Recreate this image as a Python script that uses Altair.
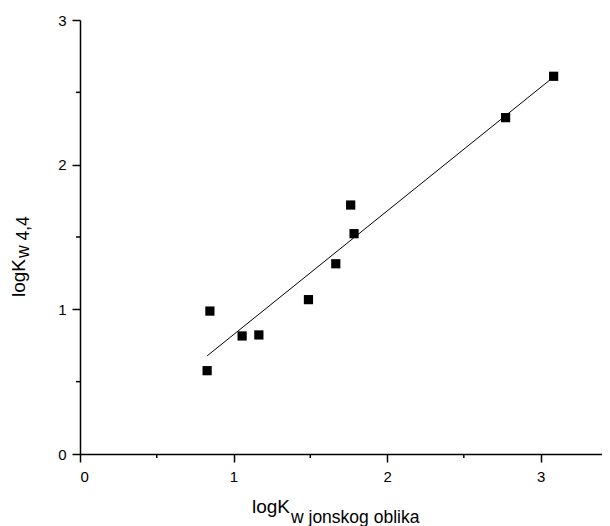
import altair as alt
import pandas as pd

# ---- data ----
x_values = [0.828, 0.846, 1.056, 1.165, 1.488, 1.666, 1.763, 1.785, 2.772, 3.085]
y_values = [0.576, 0.988, 0.816, 0.823, 1.067, 1.315, 1.721, 1.523, 2.325, 2.611]
x_major_ticks = [0, 1, 2, 3]
x_minor_ticks = [0.5, 1.5, 2.5]
y_major_ticks = [0, 1, 2, 3]
y_minor_ticks = [0.5, 1.5, 2.5]
x_domain = [0, 3.4]
y_domain = [0, 3]
x_title_main = "logK"
x_title_sub = "w jonskog oblika"
y_title_main = "logK"
y_title_sub = "w 4,4"

FONT = "Liberation Sans"
W, H = 522, 434

df = pd.DataFrame({"x": x_values, "y": y_values})
xminor = pd.DataFrame({"x": x_minor_ticks})
yminor = pd.DataFrame({"y": y_minor_ticks})

xscale = alt.Scale(domain=x_domain, nice=False, zero=False)
yscale = alt.Scale(domain=y_domain, nice=False, zero=False)
xaxis = alt.Axis(values=x_major_ticks, title=None, grid=False, tickSize=8,
                 labelPadding=7, labelFontSize=15, format="d")
yaxis = alt.Axis(values=y_major_ticks, title=None, grid=False, tickSize=8,
                 labelPadding=6, labelFontSize=15, format="d")
xenc = alt.X("x:Q", scale=xscale, axis=xaxis)
yenc = alt.Y("y:Q", scale=yscale, axis=yaxis)

line = alt.Chart(df).transform_regression("x", "y").mark_line(
    color="black", strokeWidth=1).encode(x=xenc, y=yenc)

points = alt.Chart(df).mark_square(size=85, color="black", opacity=1).encode(
    x=xenc, y=yenc)

xmin_ticks = alt.Chart(xminor).mark_rule(color="black", strokeWidth=1.5).encode(
    x=xenc, y=alt.value(H), y2=alt.value(H + 4))
ymin_ticks = alt.Chart(yminor).mark_rule(color="black", strokeWidth=1.5).encode(
    y=yenc, x=alt.value(0), x2=alt.value(-4))

def label(text, size, x, y, angle=0):
    return alt.Chart(pd.DataFrame({"t": [text]})).mark_text(
        font=FONT, fontSize=size, align="left", baseline="alphabetic",
        angle=angle, color="black").encode(
        text="t:N", x=alt.value(x), y=alt.value(y))

xt1 = label(x_title_main, 19, 172, 493)
xt2 = label(x_title_sub, 17.5, 211, 503)
yt1 = label(y_title_main, 19, -55, 277, angle=270)
yt2 = label(y_title_sub, 17.5, -51, 238, angle=270)

chart = alt.layer(line, points, xmin_ticks, ymin_ticks, xt1, xt2, yt1, yt2).properties(
    width=W, height=H,
    autosize=alt.AutoSizeParams(type="none"),
    padding={"left": 72, "top": 12, "right": 0, "bottom": 72},
).configure_view(stroke=None).configure_axis(
    domainColor="black", domainWidth=1.5, tickColor="black", tickWidth=1.5,
    labelColor="black", labelFont=FONT, grid=False,
)

chart.save("out.html", embed_options={"renderer": "svg", "actions": False})
